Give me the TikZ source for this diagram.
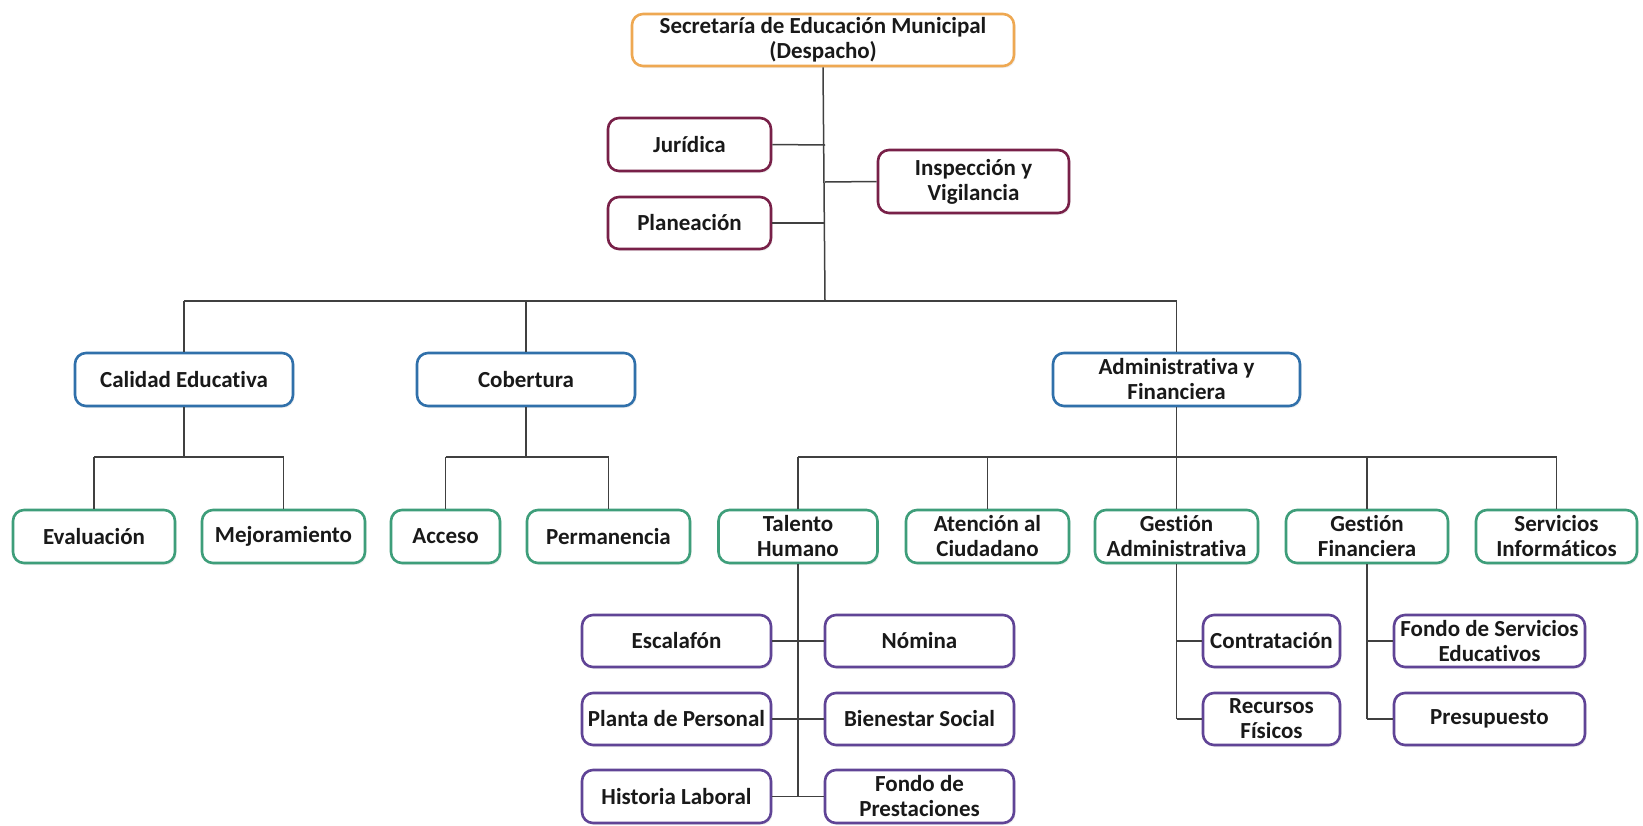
\documentclass[tikz,border=0pt]{standalone}
\usepackage{fontspec}
\setmainfont{Carlito}[Ligatures=NoCommon]
\usetikzlibrary{shadows}
\definecolor{cOrange}{RGB}{238,168,82}
\definecolor{cMaroon}{RGB}{120,32,72}
\definecolor{cBlue}{RGB}{48,112,170}
\definecolor{cGreen}{RGB}{62,158,122}
\definecolor{cPurple}{RGB}{96,68,150}
\definecolor{cLine}{RGB}{64,64,64}
\definecolor{cText}{RGB}{25,25,25}
\tikzset{
  orgbox/.style={draw, rounded corners=11pt, line width=2.6pt, fill=white,
    align=center, inner sep=1pt, text=cText,
    font=\bfseries\fontsize{23}{25}\selectfont,
    drop shadow={shadow xshift=1.5pt, shadow yshift=-2pt, opacity=0.12}},
  obox/.style={orgbox, draw=cOrange},
  mbox/.style={orgbox, draw=cMaroon},
  bbox/.style={orgbox, draw=cBlue},
  gbox/.style={orgbox, draw=cGreen},
  pbox/.style={orgbox, draw=cPurple},
  conn/.style={draw=cLine, line width=1.5pt}
}
\begin{document}
\begin{tikzpicture}[x=1pt,y=-1pt]
\useasboundingbox[fill=white] (0,0) rectangle (1643,825);
% coordinates for the bus lines
\coordinate (trunkEnd) at (825,301);
\coordinate (busL) at (184,301);
\coordinate (busR) at (1176.5,301);
\coordinate (jurJ) at (825,145);
\coordinate (planJ) at (825,223);
\coordinate (inspJ) at (825,182);
\coordinate (calJ) at (184,457);
\coordinate (calL) at (94,457);
\coordinate (calR) at (283.5,457);
\coordinate (cobJ) at (526,457);
\coordinate (cobL) at (445.5,457);
\coordinate (cobR) at (608.5,457);
\coordinate (admJ) at (1176.5,457);
\coordinate (admL) at (798,457);
\coordinate (admR) at (1556.5,457);
\coordinate (talEnd) at (798,796.5);
\coordinate (gadEnd) at (1176.5,719);
\coordinate (gfiEnd) at (1367,719);

% level 0
\node[obox, minimum width=382pt, minimum height=52pt] (top) at (823,40) {Secretaría de Educación Municipal\\(Despacho)};
% staff
\node[mbox, minimum width=163pt, minimum height=53pt] (jur) at (689.5,144.5) {Jurídica};
\node[mbox, minimum width=163pt, minimum height=52pt] (plan) at (689.5,223) {Planeación};
\node[mbox, minimum width=191pt, minimum height=63pt] (insp) at (973.5,181.5) {Inspección y\\Vigilancia};
% level 1
\node[bbox, minimum width=218pt, minimum height=53pt] (cal) at (184,379.5) {Calidad Educativa};
\node[bbox, minimum width=218pt, minimum height=53pt] (cob) at (526,379.5) {Cobertura};
\node[bbox, minimum width=247pt, minimum height=53pt] (adm) at (1176.5,379.5) {Administrativa y\\Financiera};
% level 2
\node[gbox, minimum width=162pt, minimum height=53pt] (eva) at (94,536.5) {Evaluación};
\node[gbox, minimum width=163pt, minimum height=53pt] (mej) at (283.5,536.5) {Mejoramiento};
\node[gbox, minimum width=109pt, minimum height=53pt] (acc) at (445.5,536.5) {Acceso};
\node[gbox, minimum width=163pt, minimum height=53pt] (per) at (608.5,536.5) {Permanencia};
\node[gbox, minimum width=159pt, minimum height=53pt] (tal) at (798,536.5) {Talento\\Humano};
\node[gbox, minimum width=163pt, minimum height=53pt] (ate) at (987.5,536.5) {Atención al\\Ciudadano};
\node[gbox, minimum width=163pt, minimum height=53pt] (gad) at (1176.5,536.5) {Gestión\\Administrativa};
\node[gbox, minimum width=162pt, minimum height=53pt] (gfi) at (1367,536.5) {Gestión\\Financiera};
\node[gbox, minimum width=161pt, minimum height=53pt] (ser) at (1556.5,536.5) {Servicios\\Informáticos};
% level 3
\node[pbox, minimum width=189pt, minimum height=52pt] (esc) at (676.5,641) {Escalafón};
\node[pbox, minimum width=189pt, minimum height=52pt] (pla) at (676.5,719) {Planta de Personal};
\node[pbox, minimum width=189pt, minimum height=53pt] (his) at (676.5,796.5) {Historia Laboral};
\node[pbox, minimum width=189pt, minimum height=52pt] (nom) at (919.5,641) {Nómina};
\node[pbox, minimum width=189pt, minimum height=52pt] (bie) at (919.5,719) {Bienestar Social};
\node[pbox, minimum width=189pt, minimum height=53pt] (fon) at (919.5,796.5) {Fondo de\\Prestaciones};
\node[pbox, minimum width=137pt, minimum height=52pt] (con) at (1271.5,641) {Contratación};
\node[pbox, minimum width=137pt, minimum height=52pt] (rec) at (1271.5,719) {Recursos\\Físicos};
\node[pbox, minimum width=191pt, minimum height=52pt] (fse) at (1489.5,641) {Fondo de Servicios\\Educativos};
\node[pbox, minimum width=191pt, minimum height=52pt] (pre) at (1489.5,719) {Presupuesto};

% connectors
\draw[conn] (top.south) -- (trunkEnd);
\draw[conn] (jur.east) -- (jurJ);
\draw[conn] (plan.east) -- (planJ);
\draw[conn] (insp.west) -- (inspJ);
\draw[conn] (busL) -- (busR);
\draw[conn] (busL) -- (cal.north);
\draw[conn] (cob.north |- busL) -- (cob.north);
\draw[conn] (busR) -- (adm.north);
\draw[conn] (cal.south) -- (calJ);
\draw[conn] (calL) -- (calR);
\draw[conn] (calL) -- (eva.north);
\draw[conn] (calR) -- (mej.north);
\draw[conn] (cob.south) -- (cobJ);
\draw[conn] (cobL) -- (cobR);
\draw[conn] (cobL) -- (acc.north);
\draw[conn] (cobR) -- (per.north);
\draw[conn] (adm.south) -- (admJ);
\draw[conn] (admL) -- (admR);
\draw[conn] (admL) -- (tal.north);
\draw[conn] (ate.north |- admL) -- (ate.north);
\draw[conn] (admJ) -- (gad.north);
\draw[conn] (gfi.north |- admL) -- (gfi.north);
\draw[conn] (admR) -- (ser.north);
\draw[conn] (tal.south) -- (talEnd);
\draw[conn] (esc.east) -- (nom.west);
\draw[conn] (pla.east) -- (bie.west);
\draw[conn] (his.east) -- (fon.west);
\draw[conn] (gad.south) -- (gadEnd);
\draw[conn] (gad.south |- con.west) -- (con.west);
\draw[conn] (gadEnd) -- (rec.west);
\draw[conn] (gfi.south) -- (gfiEnd);
\draw[conn] (gfi.south |- fse.west) -- (fse.west);
\draw[conn] (gfiEnd) -- (pre.west);
\end{tikzpicture}
\end{document}
